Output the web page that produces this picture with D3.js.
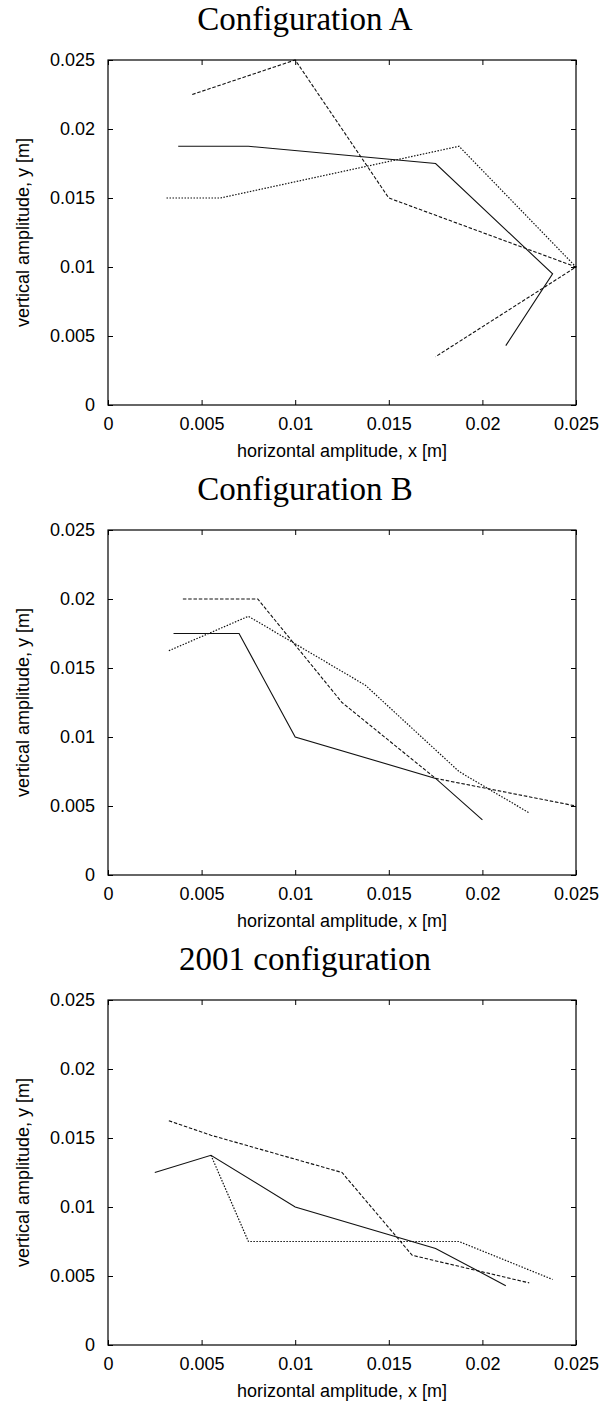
<!DOCTYPE html>
<html>
<head>
<meta charset="utf-8">
<script src="https://cdn.jsdelivr.net/npm/d3@7"></script>
<style>
  body { margin: 0; background: #fff; }
  svg { display: block; }
  .tick text { font-family: "Liberation Sans", Arial, sans-serif; font-size: 18px; fill: #000; }
  .axis-label { font-family: "Liberation Sans", Arial, sans-serif; font-size: 18px; fill: #000; }
  .title { font-family: "Liberation Serif", "Times New Roman", serif; font-size: 33px; fill: #000; }
</style>
</head>
<body>
<script>
// tick values shared by both axes of every panel
const tickValues = [0, 0.005, 0.01, 0.015, 0.02, 0.025];
const tickLabels = ['0', '0.005', '0.01', '0.015', '0.02', '0.025'];

const titles = ['Configuration A', 'Configuration B', '2001 configuration'];

// [x, y] in metres
const configASolid  = [[0.00375, 0.01875], [0.0075, 0.01875], [0.0175, 0.0175], [0.02375, 0.0095], [0.02125, 0.0043]];
const configADashed = [[0.0045, 0.0225], [0.01, 0.025], [0.015, 0.015], [0.025, 0.01], [0.0175, 0.0035]];
const configADotted = [[0.003125, 0.015], [0.006, 0.015], [0.01875, 0.01875], [0.025, 0.01]];

const configBSolid  = [[0.0035, 0.0175], [0.007, 0.0175], [0.01, 0.01], [0.0175, 0.007], [0.02, 0.004]];
const configBDashed = [[0.004, 0.02], [0.008, 0.02], [0.0125, 0.0125], [0.0175, 0.007], [0.025, 0.005]];
const configBDotted = [[0.00325, 0.01625], [0.0075, 0.01875], [0.01375, 0.01375], [0.01875, 0.0075], [0.0225, 0.0045]];

const config2001Solid  = [[0.0025, 0.0125], [0.0055, 0.01375], [0.01, 0.01], [0.0175, 0.007], [0.02125, 0.0043]];
const config2001Dashed = [[0.00325, 0.01625], [0.0055, 0.0152], [0.0125, 0.0125], [0.01625, 0.0065], [0.0225, 0.0045]];
const config2001Dotted = [[0.0055, 0.01375], [0.0075, 0.0075], [0.01875, 0.0075], [0.02375, 0.00475]];

const panels = [
    {title: titles[0], solid: configASolid, dashed: configADashed, dotted: configADotted},
    {title: titles[1], solid: configBSolid, dashed: configBDashed, dotted: configBDotted},
    {title: titles[2], solid: config2001Solid, dashed: config2001Dashed, dotted: config2001Dotted}
];

const width = 600;
const panelHeight = 470;
const margins = {top: 60, left: 108, right: 24, bottom: 65};
const tick = 5;

const dashes = {solid: null, dashed: '3.5,1.8', dotted: '1.5,1.5'};
const widths = {solid: 1.1, dashed: 1.1, dotted: 1.2};

const svg = d3.select('body').append('svg')
    .attr('width', width)
    .attr('height', 1408);

function quadrantWidth() {
    return width - margins.left - margins.right;
}

function quadrantHeight() {
    return panelHeight - margins.top - margins.bottom;
}

function renderPanel(p, i) {
    const g = svg.append('g')
        .attr('transform', 'translate(0,' + (i * panelHeight) + ')');

    const x = d3.scaleLinear().domain([0, 0.025]).range([0, quadrantWidth()]);
    const y = d3.scaleLinear().domain([0, 0.025]).range([quadrantHeight(), 0]);

    g.append('text')
        .attr('class', 'title')
        .attr('x', 305)
        .attr('y', 30)
        .attr('text-anchor', 'middle')
        .text(p.title);

    const body = g.append('g')
        .attr('transform', 'translate(' + margins.left + ',' + margins.top + ')');

    const fmt = (d, k) => tickLabels[k];

    body.append('g')
        .attr('transform', 'translate(0,' + quadrantHeight() + ')')
        .call(d3.axisBottom(x).tickValues(tickValues).tickFormat(fmt)
            .tickSizeInner(-tick).tickSizeOuter(0).tickPadding(12));

    body.append('g')
        .call(d3.axisLeft(y).tickValues(tickValues).tickFormat(fmt)
            .tickSizeInner(-tick).tickSizeOuter(0).tickPadding(13));

    body.append('g')
        .call(d3.axisTop(x).tickValues(tickValues).tickFormat('')
            .tickSizeInner(-tick).tickSizeOuter(0));

    body.append('g')
        .attr('transform', 'translate(' + quadrantWidth() + ',0)')
        .call(d3.axisRight(y).tickValues(tickValues).tickFormat('')
            .tickSizeInner(-tick).tickSizeOuter(0));

    body.selectAll('.domain').remove();
    body.selectAll('.tick line').attr('stroke', '#000');
    body.selectAll('.tick text').attr('font-family', null).attr('font-size', null);

    const line = d3.line().x(d => x(d[0])).y(d => y(d[1]));

    ['dotted', 'dashed', 'solid'].forEach(k => {
        body.append('path')
            .datum(p[k])
            .attr('d', line)
            .attr('fill', 'none')
            .attr('stroke', '#111')
            .attr('stroke-width', widths[k])
            .attr('stroke-dasharray', dashes[k]);
    });

    body.append('rect')
        .attr('width', quadrantWidth())
        .attr('height', quadrantHeight())
        .attr('fill', 'none')
        .attr('stroke', '#000')
        .attr('stroke-width', 1.2);

    g.append('text')
        .attr('class', 'axis-label')
        .attr('x', margins.left + quadrantWidth() / 2)
        .attr('y', 457)
        .attr('text-anchor', 'middle')
        .text('horizontal amplitude, x [m]');

    g.append('text')
        .attr('class', 'axis-label')
        .attr('transform', 'translate(29,' + (margins.top + quadrantHeight() / 2) + ') rotate(-90)')
        .attr('text-anchor', 'middle')
        .text('vertical amplitude, y [m]');
}

panels.forEach(renderPanel);
</script>
</body>
</html>
